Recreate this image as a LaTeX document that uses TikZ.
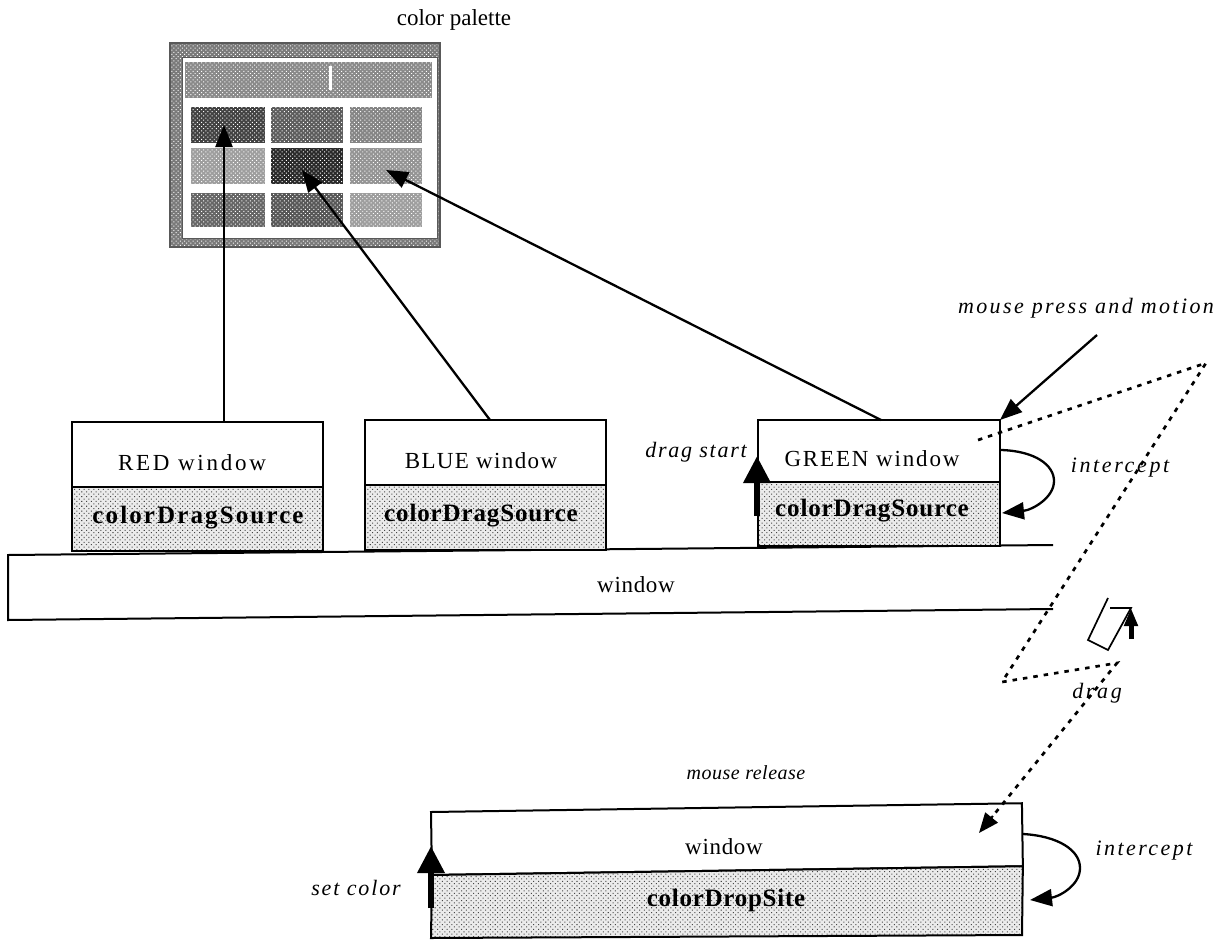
\documentclass[tikz,border=0pt]{standalone}
\usepackage{fontspec}
\setmainfont{Liberation Serif}
\usepackage{tikz}
\usetikzlibrary{arrows.meta,positioning,calc,patterns.meta}
\begin{document}
\begin{tikzpicture}[
  x=1pt,y=-1pt,
  base/.style={font=\fontsize{23}{27}\selectfont},
  winbox/.style={draw=black,line width=2pt,fill=white,anchor=north west,inner sep=0pt,outer sep=0pt},
  stipple/.style={draw=black,line width=2pt,anchor=north,inner sep=0pt,outer sep=0pt,
    preaction={fill=black!8},pattern={Dots[radius=0.72pt,distance=3.4pt,angle=45]},pattern color=black!72},
  wintext/.style={base,inner sep=0pt},
  boldtext/.style={font=\fontsize{25}{29}\selectfont\bfseries,inner sep=0pt},
  note/.style={font=\fontsize{22}{26}\selectfont\itshape,inner sep=0pt},
  dither/.style={inner sep=0pt,outer sep=0pt,anchor=north west,preaction={fill=black!#1},
    pattern={Dots[radius=0.7pt,distance=3pt,angle=45]},pattern color=white},
  thinarrow/.style={draw=black,line width=2.3pt,-{Triangle[length=22pt,width=17pt]}},
  fatarrow/.style={draw=black,line width=6.5pt,-{Triangle[length=27pt,width=26pt]}},
  dragline/.style={draw=black,line width=2.7pt,dash pattern=on 4.5pt off 6pt},
]
\useasboundingbox (0,0) rectangle (1225,939);
% palette
\node[dither=52,draw=black!65,line width=1.2pt,minimum width=270pt,minimum height=204pt] (palette) at (170,43) {};
\node[draw=black!65,line width=1.4pt,fill=white,inner sep=0pt,anchor=north west,minimum width=255pt,minimum height=181pt] (palinner) at (182,57) {};
\node[dither=46,minimum width=247pt,minimum height=36pt] (titlebar) at (185,62) {};
\node[fill=white,inner sep=0pt,anchor=north west,minimum width=3pt,minimum height=24pt] (titletick) at (329,66) {};
\foreach \name/\posx/\posy/\cellw/\cellh/\tone in {
  cellaa/191/107/74/36/74,cellab/271/107/72/36/64,cellac/350/107/72/36/48,
  cellba/191/148/74/36/38,cellbb/271/148/72/36/84,cellbc/350/148/72/36/42,
  cellca/191/193/74/34/60,cellcb/271/193/72/34/66,cellcc/350/193/72/34/38} {
  \node[dither=\tone,minimum width=\cellw pt,minimum height=\cellh pt] (\name) at (\posx,\posy) {};
}
\node[base] (palettelab) at (454,20) {color palette};
% window bar
\coordinate (barne) at (1053,545);
\coordinate (barnw) at (8,555);
\coordinate (barsw) at (8,620);
\coordinate (barse) at (1053,609);
\draw[line width=2pt] (barne) -- (barnw) -- (barsw) -- (barse);
\node[wintext] (barlab) at (636,585) {\addfontfeature{LetterSpace=3}window};
% source windows
\node[winbox,minimum width=251pt,minimum height=65pt] (redwin) at (72,422) {};
\node[stipple,minimum width=251pt,minimum height=64pt] (redsrc) at (redwin.south) {};
\node[wintext] (redlab) at (192,463) {\addfontfeature{LetterSpace=12}RED window};
\node[boldtext] (redsrclab) at (198,518) {\addfontfeature{LetterSpace=8.5}colorDragSource};
\node[winbox,minimum width=241pt,minimum height=65pt] (bluewin) at (365,420) {};
\node[stipple,minimum width=241pt,minimum height=65pt] (bluesrc) at (bluewin.south) {};
\node[wintext] (bluelab) at (481,461) {\addfontfeature{LetterSpace=6}BLUE window};
\node[boldtext] (bluesrclab) at (481,516) {\addfontfeature{LetterSpace=3.5}colorDragSource};
\node[winbox,minimum width=242pt,minimum height=62pt] (greenwin) at (758,420) {};
\node[stipple,minimum width=242pt,minimum height=64pt] (greensrc) at (greenwin.south) {};
\node[wintext] (greenlab) at (872,459) {\addfontfeature{LetterSpace=8}GREEN window};
\node[boldtext] (greensrclab) at (872,511) {\addfontfeature{LetterSpace=3.5}colorDragSource};
% drop window
\node[winbox,rotate=0.85,minimum width=591pt,minimum height=63pt] (dropwin) at (431,812) {};
\coordinate (dropse) at (1022,935);
\coordinate (dropsw) at (431,938);
\draw[stipple] (dropwin.south west) -- (dropwin.south east) -- (dropse) -- (dropsw) -- cycle;
\node[wintext] (droplab) at (724,847) {\addfontfeature{LetterSpace=3}window};
\node[boldtext] (dropsrclab) at (726,900) {\addfontfeature{LetterSpace=3}colorDropSite};
% arrows to palette
\coordinate (redfrom) at (224,422);
\coordinate (redtip) at (224,125);
\coordinate (bluefrom) at (490,420);
\coordinate (bluetip) at (302,170);
\coordinate (greenfrom) at (881,420);
\coordinate (greentip) at (386,170);
\draw[thinarrow] (redfrom) -- (redtip);
\draw[thinarrow] (bluefrom) -- (bluetip);
\draw[thinarrow] (greenfrom) -- (greentip);
% mouse press
\coordinate (pressfrom) at (1097,335);
\draw[thinarrow] (pressfrom) -- (greenwin.north east);
\node[note] (presslab) at (1086,308) {\addfontfeature{LetterSpace=11}mouse press and motion};
\node[note] (dragstartlab) at (696,452) {\addfontfeature{LetterSpace=8}drag start};
\coordinate (dragstartfrom) at (757,516);
\coordinate (dragstarttip) at (757,456);
\draw[fatarrow] (dragstartfrom) -- (dragstarttip);
% intercept loops
\coordinate (loopa) at (1001,450);
\coordinate (loopb) at (1002,513);
\draw[thinarrow] (loopa) .. controls (1035,451) and (1054,465) .. (1054,481) .. controls (1054,498) and (1032,510) .. (loopb);
\node[note] (interceptlab) at (1120,468) {\addfontfeature{LetterSpace=12}intercept};
\coordinate (loopc) at (1023,834);
\coordinate (loopd) at (1030,900);
\draw[thinarrow] (loopc) .. controls (1058,836) and (1080,850) .. (1080,868) .. controls (1080,886) and (1058,897) .. (loopd);
\node[note] (interceptdroplab) at (1144,851) {\addfontfeature{LetterSpace=11}intercept};
% drag path
\coordinate (draga) at (978,440);
\coordinate (dragb) at (1206,363);
\coordinate (dragc) at (1002,682);
\coordinate (dragd) at (1117,663);
\coordinate (drage) at (979,833);
\draw[dragline] (draga) -- (dragb) -- (dragc) -- (dragd) -- (drage);
\draw[black,-{Triangle[length=20pt,width=16pt]},line width=2pt] ($(drage)!22pt!(dragd)$) -- (drage);
\node[note] (draglab) at (1097,693) {\addfontfeature{LetterSpace=12}drag};
% drag icon
\coordinate (icona) at (1108,598);
\coordinate (iconb) at (1088,640);
\coordinate (iconc) at (1108,650);
\coordinate (icond) at (1131,608);
\coordinate (icone) at (1110,608);
\draw[line width=1.7pt] (icona) -- (iconb) -- (iconc) -- (icond) -- (icone);
\coordinate (iconfrom) at (1131,639);
\draw[black,line width=5pt,-{Triangle[length=18pt,width=13pt]}] (iconfrom) -- (icond);
% mouse release
\node[note,font=\fontsize{20}{24}\selectfont\itshape] (releaselab) at (746,773) {\addfontfeature{LetterSpace=2.5}mouse release};
\node[note] (setcolorlab) at (356,888) {\addfontfeature{LetterSpace=8.5}set color};
\coordinate (setfrom) at (431,908);
\coordinate (settip) at (431,846);
\draw[fatarrow] (setfrom) -- (settip);
\end{tikzpicture}
\end{document}
